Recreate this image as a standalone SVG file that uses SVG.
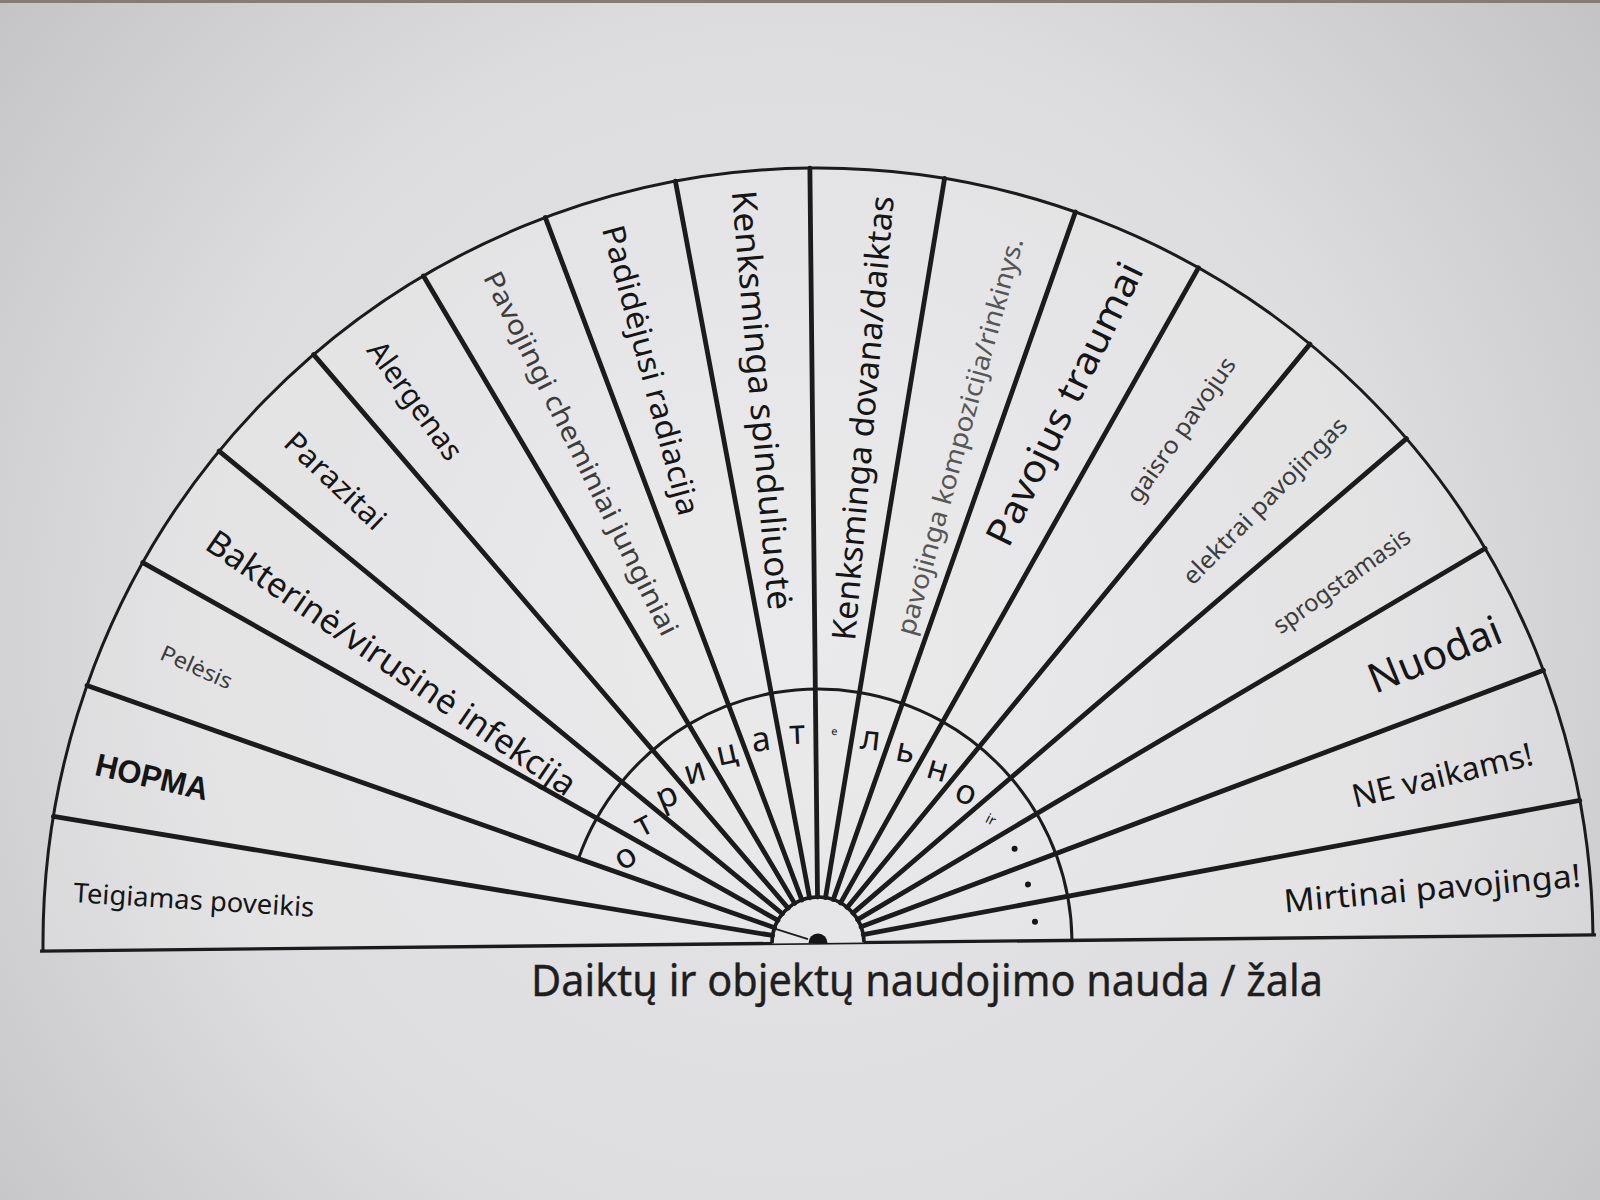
<svg xmlns="http://www.w3.org/2000/svg" width="1600" height="1200" viewBox="0 0 1600 1200">
<defs>
<radialGradient id="bg" cx="790" cy="640" r="1020" gradientUnits="userSpaceOnUse">
<stop offset="0" stop-color="#e6e6e8"/>
<stop offset="0.6" stop-color="#dddddf"/>
<stop offset="1" stop-color="#c4c3c6"/>
</radialGradient>
<style>
.lbl{font-family:"Noto Sans","DejaVu Sans",sans-serif;text-anchor:middle;dominant-baseline:central;fill:#151515}
.gray{fill:#3c3c3c}
.ring{font-family:"Noto Sans","DejaVu Sans",sans-serif;text-anchor:middle;dominant-baseline:central;fill:#151515;font-size:34px}
.div{stroke:#1b1b1b;stroke-width:4.8;stroke-linecap:round;fill:none}
.arc{stroke:#1b1b1b;stroke-width:3;fill:none}
</style>
</defs>
<rect x="0" y="0" width="1600" height="1200" fill="url(#bg)"/>
<rect x="0" y="0" width="1600" height="3" fill="#857d74"/>

<g id="fan" transform="translate(818 943) rotate(-0.6)">
<path d="M -775 0 A 775 775 0 0 1 775 0 Z" fill="#ffffff" fill-opacity="0.18"/>
</g>

<g id="connectors" transform="translate(818 943) rotate(-0.6)">
<path class="arc" d="M -775 0 A 775 775 0 0 1 775 0"/>
<line x1="-778" y1="0" x2="778" y2="0" stroke="#1b1b1b" stroke-width="3.4"/>
<path class="arc" d="M -238.68 -86.87 A 254 254 0 0 1 254 0"/>
<path d="M -46 0 A 46 46 0 0 1 46 0" stroke="#1b1b1b" stroke-width="3.6" fill="#e6e6e8"/>
<path class="div" d="M -45.30 -7.99 L -763.23 -134.58"/>
<path class="div" d="M -43.23 -15.73 L -728.26 -265.07"/>
<path class="div" d="M -39.84 -23 L -671.17 -387.5"/>
<path class="div" d="M -35.24 -29.57 L -593.68 -498.16"/>
<path class="div" d="M -29.57 -35.24 L -498.16 -593.68"/>
<path class="div" d="M -23 -39.84 L -387.5 -671.17"/>
<path class="div" d="M -15.73 -43.23 L -265.07 -728.26"/>
<path class="div" d="M -7.99 -45.30 L -134.58 -763.23"/>
<path class="div" d="M 0 -46 L 0 -775"/>
<path class="div" d="M 7.99 -45.30 L 134.58 -763.23"/>
<path class="div" d="M 15.73 -43.23 L 265.07 -728.26"/>
<path class="div" d="M 23 -39.84 L 387.5 -671.17"/>
<path class="div" d="M 29.57 -35.24 L 498.16 -593.68"/>
<path class="div" d="M 35.24 -29.57 L 593.68 -498.16"/>
<path class="div" d="M 39.84 -23 L 671.17 -387.5"/>
<path class="div" d="M 43.23 -15.73 L 728.26 -265.07"/>
<path class="div" d="M 45.30 -7.99 L 763.23 -134.58"/>
<line x1="-44" y1="-15" x2="-10" y2="-4" stroke="#1b1b1b" stroke-width="1.8"/>
<path d="M -9.5 0 A 9.5 9.5 0 0 1 9.5 0 Z" fill="#151515"/>
</g>

<g id="s01"><text class="lbl" font-size="27" textLength="241" lengthAdjust="spacingAndGlyphs" transform="translate(194 899) rotate(3.5)">Teigiamas poveikis</text></g>
<g id="s02"><text class="lbl" font-weight="bold" font-size="32" textLength="115" lengthAdjust="spacingAndGlyphs" style="font-family:'Liberation Sans',Arial,sans-serif" transform="translate(152 777) rotate(13)">НОРМА</text></g>
<g id="s03"><text class="lbl gray" font-size="22" textLength="76" lengthAdjust="spacingAndGlyphs" transform="translate(197 666) rotate(24)">Pelėsis</text></g>
<g id="s04"><text class="lbl" font-size="34" textLength="440" lengthAdjust="spacingAndGlyphs" transform="translate(392 662) rotate(34.5)">Bakterinė/virusinė infekcija</text></g>
<g id="s05"><text class="lbl" font-size="30" textLength="127" lengthAdjust="spacingAndGlyphs" transform="translate(336 480) rotate(43.5)">Parazitai</text></g>
<g id="s06"><text class="lbl" font-size="30" textLength="139" lengthAdjust="spacingAndGlyphs" transform="translate(416 400) rotate(54)">Alergenas</text></g>
<g id="s07"><text class="lbl gray" font-size="27" textLength="403" lengthAdjust="spacingAndGlyphs" transform="translate(582 453) rotate(63.5)">Pavojingi cheminiai junginiai</text></g>
<g id="s08"><text class="lbl" font-size="31" textLength="299" lengthAdjust="spacingAndGlyphs" transform="translate(652 370) rotate(75)">Padidėjusi radiacija</text></g>
<g id="s09"><text class="lbl" font-size="34" textLength="421" lengthAdjust="spacingAndGlyphs" transform="translate(763 400) rotate(85)">Kenksminga spinduliuotė</text></g>
<g id="s10"><text class="lbl" font-size="33" textLength="446" lengthAdjust="spacingAndGlyphs" transform="translate(862 418) rotate(-85)">Kenksminga dovana/daiktas</text></g>
<g id="s11"><text class="lbl" font-size="26" textLength="411" lengthAdjust="spacingAndGlyphs" style="fill:#565656" transform="translate(959 436) rotate(-74.5)">pavojinga kompozicija/rinkinys.</text></g>
<g id="s12"><text class="lbl" font-size="38" textLength="310" lengthAdjust="spacingAndGlyphs" transform="translate(1063 403) rotate(-64)">Pavojus traumai</text></g>
<g id="s13"><text class="lbl gray" font-size="24" textLength="171" lengthAdjust="spacingAndGlyphs" transform="translate(1180 429) rotate(-55)">gaisro pavojus</text></g>
<g id="s14"><text class="lbl gray" font-size="24" textLength="223" lengthAdjust="spacingAndGlyphs" transform="translate(1264 500) rotate(-45.5)">elektrai pavojingas</text></g>
<g id="s15"><text class="lbl gray" font-size="24" textLength="162" lengthAdjust="spacingAndGlyphs" transform="translate(1341 580) rotate(-35.5)">sprogstamasis</text></g>
<g id="s16"><text class="lbl" font-size="41" textLength="140" lengthAdjust="spacingAndGlyphs" transform="translate(1434 653) rotate(-22)">Nuodai</text></g>
<g id="s17"><text class="lbl" font-size="32" textLength="185" lengthAdjust="spacingAndGlyphs" transform="translate(1442 774) rotate(-13.5)">NE vaikams!</text></g>
<g id="s18"><text class="lbl" font-size="32" textLength="298" lengthAdjust="spacingAndGlyphs" transform="translate(1432 887) rotate(-5)">Mirtinai pavojinga!</text></g>

<g id="ring-word" transform="translate(818 943) rotate(-0.6)">
<text class="ring" transform="translate(-193 -90) rotate(-32)">о</text>
<text class="ring" transform="translate(-174.5 -122.2) rotate(-27)">т</text>
<text class="ring" transform="translate(-150.6 -150.6) rotate(-22)">р</text>
<text class="ring" transform="translate(-122.2 -174.5) rotate(-17)">и</text>
<text class="ring" transform="translate(-90 -193) rotate(-12)">ц</text>
<text class="ring" transform="translate(-55.1 -205.7) rotate(-7)">а</text>
<text class="ring" transform="translate(-18.6 -212.2) rotate(-2)">т</text>
<text class="ring" style="font-size:11px" transform="translate(18.6 -212.2) rotate(2)">е</text>
<text class="ring" transform="translate(55.1 -205.7) rotate(7)">л</text>
<text class="ring" transform="translate(90 -193) rotate(12)">ь</text>
<text class="ring" transform="translate(122.2 -174.5) rotate(17)">н</text>
<text class="ring" transform="translate(150.6 -150.6) rotate(22)">о</text>
<text class="ring" style="font-size:14px" transform="translate(174.5 -122.2) rotate(27)">ir</text>
<circle cx="197.6" cy="-92.1" r="3" fill="#151515"/>
<circle cx="210.6" cy="-56.4" r="3" fill="#151515"/>
<circle cx="217.2" cy="-19" r="3" fill="#151515"/>
</g>

<g id="title"><text x="927" y="979" font-family="Noto Sans, DejaVu Sans, sans-serif" font-size="44" text-anchor="middle" dominant-baseline="central" fill="#1e1e1e" stroke="#1e1e1e" stroke-width="0.4" textLength="792" lengthAdjust="spacingAndGlyphs">Daiktų ir objektų naudojimo nauda / žala</text></g>
</svg>
